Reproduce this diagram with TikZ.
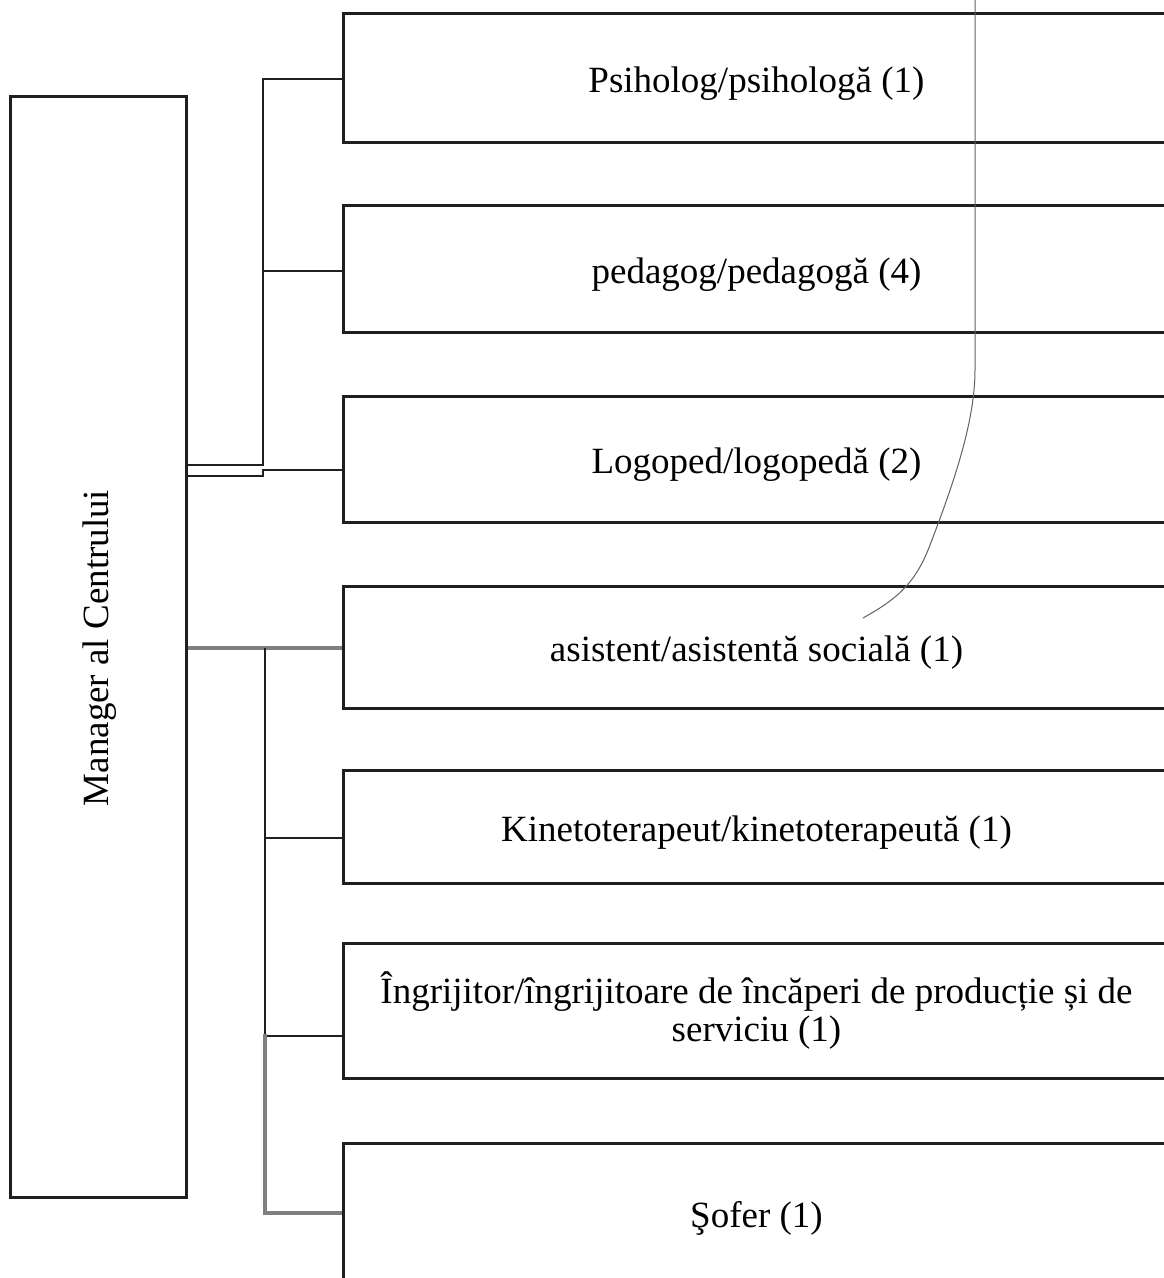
\documentclass[tikz,border=0pt]{standalone}
\usepackage{fontspec}
\setmainfont{Liberation Serif}
\begin{document}
\begin{tikzpicture}[x=1pt,y=-1pt,
  box/.style={draw=black!88,line width=3pt,rectangle,inner sep=0pt,
    font=\fontsize{37}{40}\selectfont,align=center},
  onel/.style={text height=29pt,text depth=0pt},
  conn/.style={draw=black!88,line width=2pt},
  gconn/.style={draw=black!50,line width=3.2pt},
  pen/.style={draw=black!62,line width=1pt}]
\useasboundingbox (0,0) rectangle (1163,1278);
\fill[white] (0,0) rectangle (1163,1278);
% manager
\node[box,minimum width=176pt,minimum height=1101pt] (mgr) at (98,646.5) {};
\node[font=\fontsize{37}{40}\selectfont,rotate=90] (mgrt) at (100,648) {Manager al Centrului};
% boxes
\node[box,onel,minimum width=827pt,minimum height=129pt] (b1) at (756.5,77.5) {Psiholog/psihologă (1)};
\node[box,onel,minimum width=827pt,minimum height=127pt] (b2) at (756.5,268.5) {pedagog/pedagogă (4)};
\node[box,onel,minimum width=827pt,minimum height=126pt] (b3) at (756.5,459) {Logoped/logopedă (2)};
\node[box,onel,minimum width=827pt,minimum height=122pt] (b4) at (756.5,647) {asistent/asistentă socială (1)};
\node[box,onel,minimum width=827pt,minimum height=113pt] (b5) at (756.5,826.5) {Kinetoterapeut/kinetoterapeută (1)};
\node[box,minimum width=827pt,minimum height=135pt] (b6) at (756.5,1010.5) {Îngrijitor/îngrijitoare de încăperi de producție și de\\[-2pt] serviciu (1)};
\node[box,onel,minimum width=827pt,minimum height=140pt] (b7) at (756.5,1213) {Şofer (1)};
% upper bracket
\coordinate (ju) at (263,465);
\coordinate (jd) at (263,476);
\coordinate (jl) at (265,648);
\draw[conn] (mgr.east |- ju) -- (ju) |- (b1.west |- 0,79);
\draw[conn] (ju |- 0,271) -- (b2.west |- 0,271);
\draw[conn] (mgr.east |- jd) -- (jd) -- (263,470) -- (b3.west |- 0,470);
% lower bracket
\draw[gconn] (mgr.east |- jl) -- (b4.west |- jl);
\draw[conn,line width=2.6pt] (jl) -- (265,1036);
\draw[conn] (265,838) -- (b5.west |- 0,838);
\draw[conn] (265,1036) -- (b6.west |- 0,1036);
\draw[gconn] (265,1034) -- (265,1213) -- (b7.west |- 0,1213);
% pen mark
\draw[pen] (975,-2) -- (975,370) .. controls (975,420) and (955,480) .. (930,545) .. controls (915,585) and (895,600) .. (863,618);
\end{tikzpicture}
\end{document}
